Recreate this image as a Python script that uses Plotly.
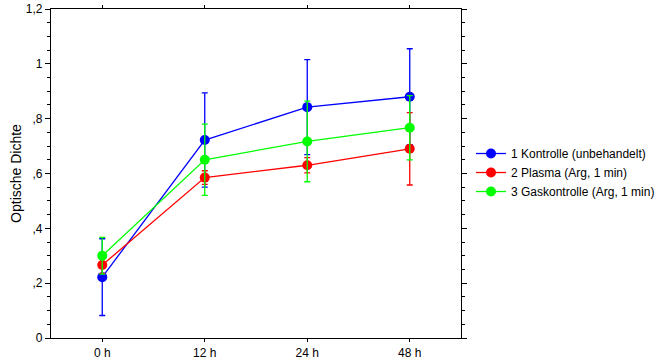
import plotly.graph_objects as go

categories = ["0 h", "12 h", "24 h", "48 h"]
series_names = ["1 Kontrolle (unbehandelt)", "2 Plasma (Arg, 1 min)", "3 Gaskontrolle (Arg, 1 min)"]
kontrolle = [0.222, 0.722, 0.842, 0.880]
kontrolle_err = [0.140, 0.172, 0.173, 0.175]
plasma = [0.266, 0.585, 0.630, 0.690]
plasma_err = [0.030, 0.025, 0.028, 0.132]
gaskontrolle = [0.300, 0.650, 0.717, 0.767]
gaskontrolle_err = [0.067, 0.130, 0.147, 0.117]
y_tickvals = [0, 0.2, 0.4, 0.6, 0.8, 1.0, 1.2]
y_ticktext = ["0", ",2", ",4", ",6", ",8", "1", "1,2"]

colors = ["#0000FF", "#FF0000", "#00FF00"]
series = [(kontrolle, kontrolle_err), (plasma, plasma_err), (gaskontrolle, gaskontrolle_err)]

fig = go.Figure()
for name, (vals, errs), c in zip(series_names, series, colors):
    fig.add_trace(go.Scatter(
        x=categories, y=vals, name=name, mode="lines+markers",
        line=dict(color=c, width=1.3),
        marker=dict(color=c, size=10, symbol="circle"),
        error_y=dict(type="data", array=errs, visible=True, color=c, thickness=1.3, width=3),
    ))

fig.update_layout(
    width=674, height=363,
    margin=dict(l=51, r=213, t=9, b=25),
    paper_bgcolor="white", plot_bgcolor="white",
    font=dict(family="Liberation Sans, Arial, sans-serif", size=12, color="black"),
    showlegend=True,
    legend=dict(x=1.0244, xanchor="left", y=0.503, yanchor="middle",
                bgcolor="rgba(0,0,0,0)", font=dict(size=12), tracegroupgap=0),
)
fig.update_xaxes(
    type="category", range=[-0.5, 3.5], automargin=False,
    showline=True, linecolor="black", linewidth=1.3, mirror="ticks",
    ticks="outside", ticklen=3, tickcolor="black", tickwidth=1,
    showgrid=False, zeroline=False,
)
fig.update_yaxes(
    range=[0, 1.2], tickmode="array", tickvals=y_tickvals, ticktext=y_ticktext,
    automargin=False,
    showline=True, linecolor="black", linewidth=1.3, mirror="ticks",
    ticks="outside", ticklen=5, tickcolor="black", tickwidth=1,
    minor=dict(tickmode="linear", tick0=0, dtick=0.05, ticks="outside", ticklen=3, tickcolor="black", showgrid=False),
    showgrid=False, zeroline=False, title=dict(text="Optische Dichte", standoff=0),
)
fig.write_html("out.html", config={"displayModeBar": False},
               post_script="document.body.style.margin='0';document.body.style.overflow='hidden';")
